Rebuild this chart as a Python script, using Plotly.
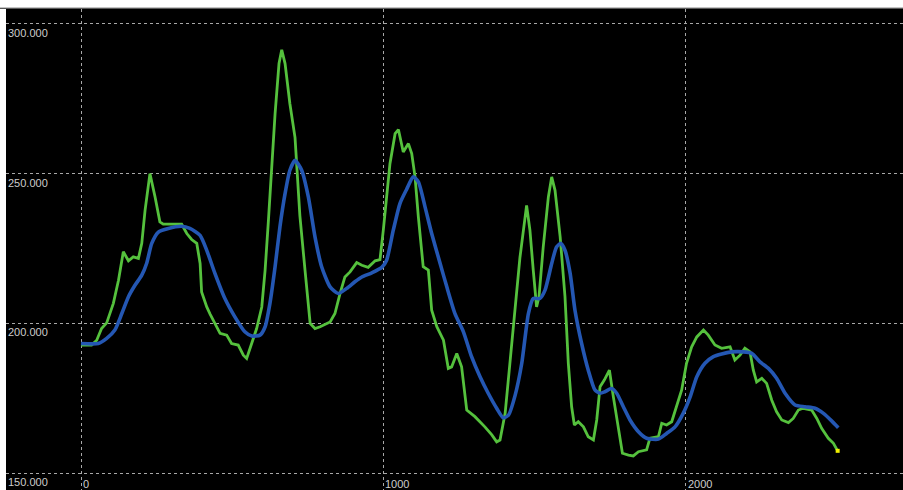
import plotly.graph_objects as go

# ---- data ----
green_x = [0, 35, 52, 68, 85, 107, 124, 140, 157, 173, 190, 201, 212, 228, 245, 261, 272, 333, 350, 366,
           383, 394, 399, 416, 427, 443, 460, 482, 498, 520, 537, 548, 565, 581, 598, 609, 620, 631, 642, 655,
           664, 675, 691, 708, 724, 741, 758, 774, 791, 824, 840, 857, 873, 890, 912, 929, 950, 973, 989, 1000,
           1011, 1022, 1039, 1050, 1066, 1083, 1094, 1105, 1116, 1127, 1132, 1149, 1160, 1177, 1199, 1215, 1226,
           1243, 1259, 1276, 1303, 1336, 1359, 1375, 1386, 1403, 1419, 1436, 1452, 1474, 1485, 1496, 1507, 1515,
           1529, 1546, 1557, 1568, 1585, 1601, 1612, 1623, 1632, 1645, 1662, 1678, 1695, 1706, 1717, 1731, 1748,
           1761, 1778, 1791, 1811, 1827, 1844, 1871, 1882, 1910, 1921, 1937, 1954, 1970, 1987, 2003, 2020, 2037,
           2059, 2075, 2097, 2119, 2147, 2163, 2180, 2196, 2213, 2224, 2235, 2252, 2268, 2285, 2301, 2318, 2340,
           2356, 2373, 2389, 2417, 2434, 2450, 2472, 2489, 2503]
green_y = [192.8, 192.8, 194.4, 198.3, 200.2, 206.7, 214.4, 223.9, 220.9, 222.2, 221.7, 226.7, 237.8, 250.0,
           242.2, 233.9, 233.1, 233.1, 230.0, 228.0, 226.7, 220.0, 210.5, 205.5, 203.1, 200.0, 196.7, 196.1,
           193.3, 192.8, 189.4, 188.3, 193.3, 198.3, 205.5, 217.8, 234.4, 253.3, 270.0, 286.7, 291.3, 286.7,
           273.3, 262.0, 236.0, 217.8, 200.0, 198.3, 198.9, 200.5, 203.3, 210.0, 215.5, 217.2, 220.3, 219.4,
           218.7, 220.9, 221.3, 231.1, 243.3, 253.3, 263.3, 264.7, 257.2, 260.0, 256.7, 248.9, 235.5, 222.2,
           218.9, 217.8, 204.4, 198.9, 194.4, 185.0, 185.5, 190.0, 185.5, 171.1, 168.9, 165.5, 162.8, 160.5,
           161.1, 170.0, 186.7, 204.0, 222.0, 239.4, 231.1, 217.8, 205.5, 208.9, 225.5, 242.2, 248.9, 244.4,
           228.9, 208.9, 186.7, 172.2, 166.1, 167.2, 165.5, 162.2, 161.1, 167.8, 178.9, 181.1, 184.4, 175.5,
           164.5, 156.7, 156.1, 155.8, 157.2, 157.8, 161.7, 162.2, 166.7, 166.1, 167.2, 172.2, 177.8, 186.7,
           192.2, 195.5, 197.8, 196.1, 192.8, 191.7, 192.2, 187.8, 189.4, 191.7, 190.5, 184.4, 180.5, 181.7,
           180.0, 174.4, 170.5, 167.8, 166.9, 168.3, 171.1, 171.7, 171.1, 168.3, 165.0, 161.7, 160.0, 157.5]

blue_x = [0, 57, 85, 112, 135, 157, 179, 201, 217, 234, 256, 289, 333, 360, 394, 416, 443, 476, 509, 542,
          565, 592, 609, 625, 642, 658, 675, 691, 708, 730, 752, 774, 796, 824, 851, 879, 906, 929, 962, 995,
          1011, 1033, 1055, 1077, 1099, 1116, 1138, 1160, 1188, 1210, 1237, 1265, 1292, 1320, 1347, 1375, 1397,
          1414, 1436, 1458, 1480, 1496, 1518, 1535, 1557, 1573, 1587, 1601, 1618, 1634, 1656, 1678, 1700, 1717,
          1733, 1755, 1772, 1794, 1816, 1844, 1871, 1910, 1937, 1965, 1992, 2015, 2037, 2064, 2092, 2119, 2152,
          2191, 2219, 2246, 2274, 2301, 2329, 2362, 2395, 2428, 2456, 2483, 2505]
blue_y = [193.3, 193.3, 195.0, 197.8, 203.3, 208.9, 212.8, 216.1, 220.0, 226.7, 230.5, 231.7, 232.4, 231.7,
          229.4, 224.4, 216.7, 208.3, 202.2, 197.2, 195.8, 196.1, 198.9, 206.7, 218.9, 232.2, 243.3, 251.1,
          254.4, 251.1, 242.2, 228.9, 218.9, 212.2, 210.0, 211.7, 213.9, 215.5, 216.9, 218.7, 221.1, 231.1,
          240.0, 244.7, 248.9, 247.2, 238.9, 230.0, 220.0, 212.2, 203.3, 197.2, 188.9, 182.2, 176.7, 171.7,
          168.5, 169.4, 176.0, 186.7, 203.3, 208.3, 208.3, 211.1, 220.0, 225.5, 226.7, 224.4, 216.7, 204.4,
          193.3, 184.4, 177.8, 176.7, 177.2, 178.3, 176.7, 172.2, 167.8, 163.9, 161.7, 161.4, 163.3, 165.5,
          170.0, 175.5, 182.2, 186.7, 188.9, 189.8, 190.5, 190.5, 190.0, 187.2, 185.0, 181.7, 176.7, 172.8,
          172.2, 171.7, 170.0, 167.5, 165.2]

x_ticks = [0, 1000, 2000]
x_tick_labels = ["0", "1000", "2000"]
y_ticks = [150, 200, 250, 300]
y_tick_labels = ["150.000", "200.000", "250.000", "300.000"]

GRID = "#a8a8a8"
LABEL = "#cccccc"
FONT = "Liberation Sans, Arial, sans-serif"

fig = go.Figure()
fig.add_trace(go.Scatter(x=green_x, y=green_y, mode="lines",
                         line=dict(color="#55c13d", width=2.8), hoverinfo="skip"))
fig.add_trace(go.Scatter(x=blue_x, y=blue_y, mode="lines",
                         line=dict(color="#2457b3", width=3.6, shape="spline", smoothing=0.6),
                         hoverinfo="skip"))
fig.add_trace(go.Scatter(x=[green_x[-1]], y=[green_y[-1]], mode="markers",
                         marker=dict(color="#f0f000", size=4, symbol="square"), hoverinfo="skip"))

annotations = []
for v, t in zip(y_ticks, y_tick_labels):
    annotations.append(dict(x=0, xref="paper", y=v, yref="y", text=t, showarrow=False,
                            xanchor="left", yanchor="top", xshift=0, yshift=-1,
                            font=dict(family=FONT, size=11, color=LABEL)))
for v, t in zip(x_ticks, x_tick_labels):
    annotations.append(dict(x=v, xref="x", y=150, yref="y", text=t, showarrow=False,
                            xanchor="left", yanchor="top", xshift=0, yshift=-3,
                            font=dict(family=FONT, size=11, color=LABEL)))

shapes = [
    dict(type="rect", xref="paper", yref="paper", x0=-0.01, x1=1.01, ysizemode="pixel", yanchor=1,
         y0=1, y1=2, fillcolor="#c4c4c4", line=dict(width=0), layer="above"),
    dict(type="rect", xref="paper", yref="paper", x0=-0.01, x1=1.01, ysizemode="pixel", yanchor=1,
         y0=0, y1=1, fillcolor="#5a5a5a", line=dict(width=0), layer="above"),
]

fig.update_layout(
    width=903, height=490,
    margin=dict(l=6, r=0, t=9, b=0, pad=0),
    paper_bgcolor="#ffffff", plot_bgcolor="#000000",
    showlegend=False,
    annotations=annotations,
    shapes=shapes,
    xaxis=dict(range=[-248.1, 2719.1], tickvals=x_ticks, showticklabels=False, ticks="",
               showgrid=True, gridcolor=GRID, gridwidth=1, griddash="3px,3px",
               zeroline=False, showline=False, fixedrange=True),
    yaxis=dict(range=[144.43, 304.9], tickvals=y_ticks, showticklabels=False, ticks="",
               showgrid=True, gridcolor=GRID, gridwidth=1, griddash="3px,3px",
               zeroline=False, showline=False, fixedrange=True),
)

fig.write_html("out.html", config={"displayModeBar": False},
               post_script="document.body.style.margin='0px';document.body.style.overflow='hidden';")
